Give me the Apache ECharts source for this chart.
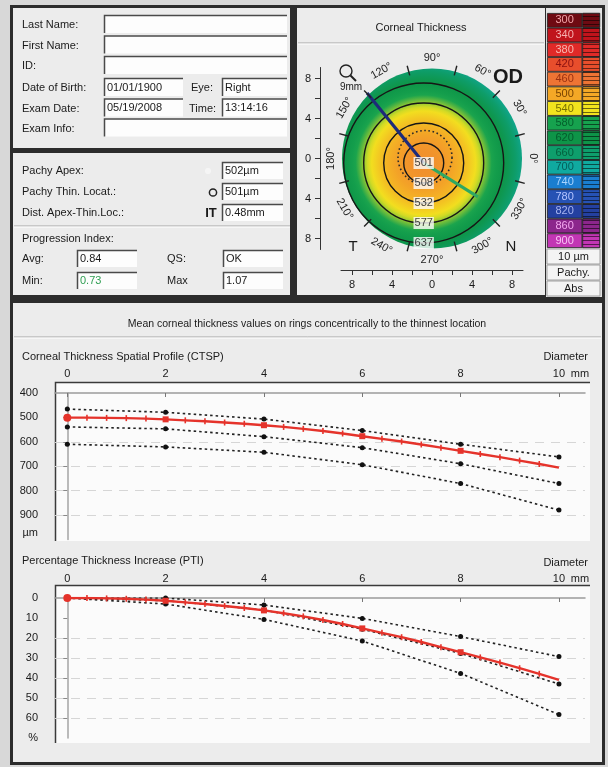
<!DOCTYPE html>
<html>
<head>
<meta charset="utf-8">
<script src="https://cdn.jsdelivr.net/npm/echarts@6/dist/echarts.min.js"></script>
<style>
  html, body { margin: 0; padding: 0; background: #d8d8d8; }
  #c { width: 608px; height: 767px; }
</style>
</head>
<body>
<div id="c"></div>
<script>
// ---------- data ----------
// ring diameters (mm) at which the mean thickness is sampled
const diameters = [0, 0.4, 0.8, 1.2, 1.6, 2, 2.4, 2.8, 3.2, 3.6, 4, 4.4, 4.8, 5.2, 5.6, 6, 6.4, 6.8, 7.2, 7.6, 8, 8.4, 8.8, 9.2, 9.6, 10];
// mean corneal thickness on each ring (µm)
const ctspMean = [501, 501, 502, 503, 505, 508, 512, 516, 521, 526, 532, 539, 547, 556, 566, 577, 588, 599, 611, 624, 637, 650, 663, 677, 691, 706];
// percentage thickness increase on each ring (%)
const ptiMean = [0, 0, 0.2, 0.4, 0.8, 1.4, 2.2, 3.0, 4.0, 5.0, 6.2, 7.6, 9.2, 11.0, 13.0, 15.2, 17.4, 19.6, 22.0, 24.6, 27.1, 29.7, 32.3, 35.1, 37.9, 40.9];

// normal population reference curves
const normDiam = [0, 2, 4, 6, 8, 10];
const ctspNormLow = [466, 479, 507, 554, 610, 662];
const ctspNormMid = [539, 547, 579, 624, 690, 771];
const ctspNormHigh = [610, 621, 643, 694, 771, 880];
const ptiNormLow = [0, 0, 3.5, 10.2, 19.3, 29.3];
const ptiNormMid = [0, 1.3, 6.0, 15.6, 27.7, 43.0];
const ptiNormHigh = [0, 3.0, 10.7, 21.5, 37.7, 58.3];

// axis ticks
const diamTicks = [0, 2, 4, 6, 8, 10];
const ctspTicks = [400, 500, 600, 700, 800, 900];
const ptiTicks = [0, 10, 20, 30, 40, 50, 60];
const mapTicks = [-8, -4, 0, 4, 8];
const mapMinorTicks = [-8, -6, -4, -2, 0, 2, 4, 6, 8];

// thickness map (map units: radius in units == ring diameter in mm)
const ringDiam = [0, 2, 4, 6, 8];
const ringThickness = [501, 508, 532, 577, 637];
const mapZoneDiam = 9;
const thinLoc = [-0.83, -0.45];
const pupil = [-0.7, 0.1, 2.7];
const meridians = [
  { angle: 129, length: 9.0, color: '#1d2b7a' },
  { angle: 328, length: 6.4, color: '#2fa862' }
];
const angleMarks = [0, 30, 60, 90, 120, 150, 180, 210, 240, 270, 300, 330];
const rimTicks = [15, 45, 75, 105, 135, 165, 195, 225, 255, 285, 315, 345];

// absolute pachymetry colour scale (each colour labels the 40 µm band starting at that value)
const scaleSteps = ['300', '340', '380', '420', '460', '500', '540', '580', '620', '660', '700', '740', '780', '820', '860', '900'];
const scaleColors = ['#6e0a12', '#c0141c', '#e02a28', '#e84e2c', '#ee7434', '#f4a826', '#f2e41e', '#16a24e', '#0e9448', '#0e9e6c', '#10aaa0', '#1a7ed0', '#2652b4', '#2440a0', '#8c268c', '#c236b4'];
const scaleTextColors = ['#f2a4a8', '#f6b0b0', '#f8b8b0', '#8a1010', '#9a3010', '#7a4400', '#7a7000', '#04602c', '#045c2c', '#04603e', '#045e5a', '#a8d4ff', '#b4c4ff', '#a8b4f0', '#f4a8f0', '#fac4f6'];
const scaleBase = 300, scaleBand = 40, scaleSpan = 600;

// ---------- helpers ----------
const FONT = '"Liberation Sans", Arial, sans-serif';
const INK = '#1a1a1a';

function txt(x, y, s, extra) {
  return {
    type: 'text', x: x, y: y, z: 60,
    style: Object.assign({ text: s, fill: INK, fontSize: 11, fontFamily: FONT, align: 'left', verticalAlign: 'middle' }, extra || {})
  };
}
function rect(x, y, w, h, fill, z, extra) {
  return { type: 'rect', z: z, shape: { x: x, y: y, width: w, height: h }, style: Object.assign({ fill: fill }, extra || {}) };
}
function field(x, y, w, h, value, color) {
  const els = [
    rect(x, y, w, h, '#fdfdfd', 20),
    { type: 'polyline', z: 21, shape: { points: [[x + 0.5, y + h], [x + 0.5, y + 0.5], [x + w, y + 0.5]] }, style: { stroke: '#4a4a4a', lineWidth: 1.5, fill: null } }
  ];
  if (value) els.push(txt(x + 3, y + h / 2 + 0.5, value, { fill: color || INK }));
  return els;
}
function etch(x1, x2, y) {
  return [
    { type: 'line', z: 15, shape: { x1: x1, y1: y, x2: x2, y2: y }, style: { stroke: '#a4a4a4', lineWidth: 1 } },
    { type: 'line', z: 15, shape: { x1: x1, y1: y + 1, x2: x2, y2: y + 1 }, style: { stroke: '#ffffff', lineWidth: 1 } }
  ];
}
function isEven(v) { return Math.abs(v / 2 - Math.round(v / 2)) < 1e-6; }
// colour of a thickness value: centre of its band gets the band colour
function thicknessColor(v) {
  const t = (v - scaleBase - scaleBand / 2) / scaleSpan;
  return echarts.color.lerp(Math.max(0, Math.min(1, t)), scaleColors);
}

// ---------- panels, fields and captions ----------
const g = [];
g.push(rect(10, 5, 595, 760, '#2c2c2c', -20));
g.push(rect(13, 8, 277, 140, '#ececec', -19));
g.push(rect(13, 153, 277, 142, '#ececec', -19));
g.push(rect(297, 8, 248, 287, '#ececec', -19));
g.push(rect(546, 8, 56, 289, '#e4e4e4', -19));
g.push(rect(13, 303, 589, 459, '#ececec', -19));

// patient block
const p1Rows = [25, 45.5, 66, 88, 108.5, 128.5];
const p1Labels = ['Last Name:', 'First Name:', 'ID:', 'Date of Birth:', 'Exam Date:', 'Exam Info:'];
p1Labels.forEach((s, i) => g.push(txt(22, p1Rows[i], s)));
[0, 1, 2, 5].forEach(i => g.push(...field(104, p1Rows[i] - 10, 183, 18)));
g.push(...field(104, p1Rows[3] - 10, 79, 18, '01/01/1900'));
g.push(...field(104, p1Rows[4] - 10, 79, 18, '05/19/2008'));
g.push(txt(191, p1Rows[3], 'Eye:'));
g.push(txt(189, p1Rows[4], 'Time:'));
g.push(...field(222, p1Rows[3] - 10, 65, 18, 'Right'));
g.push(...field(222, p1Rows[4] - 10, 65, 18, '13:14:16'));

// pachymetry block
const p2Rows = [171, 192, 213];
['Pachy Apex:', 'Pachy Thin. Locat.:', 'Dist. Apex-Thin.Loc.:'].forEach((s, i) => g.push(txt(22, p2Rows[i], s)));
['502µm', '501µm', '0.48mm'].forEach((s, i) => g.push(...field(222, p2Rows[i] - 9, 61, 17, s)));
g.push({ type: 'circle', z: 30, shape: { cx: 208, cy: 171, r: 3 }, style: { fill: '#f8f8f8', opacity: 0.8 } });
g.push({ type: 'circle', z: 30, shape: { cx: 213, cy: 192.5, r: 3.6 }, style: { fill: 'none', stroke: '#222', lineWidth: 1.5 } });
g.push(txt(211, 213.5, 'IT', { fontSize: 13, fontWeight: 'bold', align: 'center' }));
g.push(...etch(14, 290, 226));
g.push(txt(22, 238.5, 'Progression Index:'));
g.push(txt(22, 259, 'Avg:'));
g.push(txt(22, 281, 'Min:'));
g.push(txt(167, 259, 'QS:'));
g.push(txt(167, 281, 'Max'));
g.push(...field(77, 250, 60, 17, '0.84'));
g.push(...field(77, 272, 60, 17, '0.73', '#2f9e52'));
g.push(...field(223, 250, 60, 17, 'OK'));
g.push(...field(223, 272, 60, 17, '1.07'));

// thickness map captions
g.push(txt(421, 28, 'Corneal Thickness', { align: 'center' }));
g.push(...etch(298, 544, 43));
g.push(txt(508, 77, 'OD', { fontSize: 20, fontWeight: 'bold', align: 'center' }));
g.push(txt(353, 247, 'T', { fontSize: 15, align: 'center' }));
g.push(txt(511, 247, 'N', { fontSize: 15, align: 'center' }));
g.push({ type: 'circle', z: 30, shape: { cx: 346, cy: 71, r: 6 }, style: { fill: 'none', stroke: '#222', lineWidth: 1.4 } });
g.push({ type: 'line', z: 30, shape: { x1: 350.5, y1: 75.5, x2: 356, y2: 81 }, style: { stroke: '#222', lineWidth: 2 } });
g.push(txt(351, 87.5, '9mm', { fontSize: 10, align: 'center' }));

// colour scale footer
['10 µm', 'Pachy.', 'Abs'].forEach((s, i) => {
  g.push(rect(547, 249 + i * 16, 53, 15, '#f4f4f4', 20, { stroke: '#a0a0a0', lineWidth: 1 }));
  g.push(txt(573.5, 257 + i * 16, s, { align: 'center' }));
});

// profile captions
g.push(txt(307, 324, 'Mean corneal thickness values on rings concentrically to the thinnest location', { align: 'center', fontSize: 10.5 }));
g.push(...etch(14, 601, 337));
g.push(txt(22, 357, 'Corneal Thickness Spatial Profile (CTSP)'));
g.push(txt(588, 357, 'Diameter', { align: 'right' }));
g.push(txt(22, 561, 'Percentage Thickness Increase (PTI)'));
g.push(txt(588, 563, 'Diameter', { align: 'right' }));

// plot frames
[[382, 159], [585, 158]].forEach(([y, h]) => {
  g.push(rect(55, y, 535, h, '#fbfbfb', -10));
  g.push({ type: 'polyline', z: -9, shape: { points: [[55.5, y + h], [55.5, y + 0.5], [590, y + 0.5]] }, style: { stroke: '#3a3a3a', lineWidth: 1.5, fill: null } });
});

// ---------- axes ----------
const labelStyle = { color: INK, fontSize: 11, fontFamily: FONT };
function diamAxis(gridIndex) {
  return {
    type: 'value', gridIndex: gridIndex, position: 'top', min: -0.25, max: 10.53,
    axisLine: { lineStyle: { color: '#9c9c9c', width: 1.5 } },
    axisTick: { inside: true, length: 4, customValues: diamTicks, lineStyle: { color: '#777' } },
    axisLabel: Object.assign({}, labelStyle, {
      margin: 14, customValues: diamTicks,
      formatter: v => v === 10 ? '{p|}{n|10}{u|mm}' : '{n|' + v + '}',
      rich: { n: labelStyle, p: { width: 24 }, u: Object.assign({ width: 24, align: 'right' }, labelStyle) }
    }),
    splitLine: { show: false }
  };
}
function valueAxis(gridIndex, min, max, step, unit, ticks, splitCount) {
  const splitColors = [];
  for (let i = 0; i < splitCount; i++) splitColors.push(i === 0 || i === splitCount - 1 ? 'rgba(0,0,0,0)' : '#d6d6d6');
  return {
    type: 'value', gridIndex: gridIndex, inverse: true, min: min, max: max, interval: step,
    axisLine: { onZero: true, lineStyle: { color: '#a4a4a4', width: 1.5 } },
    axisTick: { length: 4, customValues: ticks.slice(1), lineStyle: { color: '#888' } },
    axisLabel: Object.assign({}, labelStyle, {
      margin: 17,
      formatter: v => (v === max ? '{u|' + unit + '}' : String(v)),
      rich: { u: Object.assign({}, labelStyle, unit === 'µm' ? { padding: [0, 0, 12, 0] } : {}) }
    }),
    splitLine: { show: true, lineStyle: { color: splitColors, type: [9, 7], width: 1 } }
  };
}
function hidden(gridIndex, min, max) {
  return { type: 'value', gridIndex: gridIndex, min: min, max: max, show: false, splitLine: { show: false } };
}
function mapAxis(gridIndex, position) {
  return {
    type: 'value', gridIndex: gridIndex, position: position, min: -9.1, max: 9.1,
    axisLine: { lineStyle: { color: '#333', width: 1 } },
    axisTick: { length: 5, customValues: mapMinorTicks, lineStyle: { color: '#333' } },
    axisLabel: Object.assign({}, labelStyle, { margin: 9, customValues: mapTicks, formatter: v => String(Math.abs(v)) }),
    splitLine: { show: false }
  };
}

// ---------- series ----------
const lastIdx = diameters.length - 1;
function meanSeries(name, xi, yi, values) {
  return {
    name: name, type: 'line', xAxisIndex: xi, yAxisIndex: yi, z: 5,
    data: diameters.map((d, i) => [d, values[i]]),
    symbol: (v, p) => (p.dataIndex === lastIdx ? 'none' : p.dataIndex === 0 ? 'circle' : 'rect'),
    symbolSize: (v, p) => (p.dataIndex === 0 ? 8 : isEven(v[0]) ? 6 : [1.6, 6]),
    showSymbol: true,
    itemStyle: { color: '#e5332b' },
    lineStyle: { color: '#e5332b', width: 2.4 }
  };
}
function normSeries(name, xi, yi, values) {
  return {
    name: name, type: 'line', xAxisIndex: xi, yAxisIndex: yi, z: 4,
    data: normDiam.map((d, i) => [d, values[i]]),
    symbol: 'circle', symbolSize: 5,
    itemStyle: { color: '#111' },
    lineStyle: { color: '#222', width: 1.6, type: [2.5, 3] }
  };
}

const series = [
  normSeries('CTSP low', 0, 0, ctspNormLow),
  normSeries('CTSP mid', 0, 0, ctspNormMid),
  normSeries('CTSP high', 0, 0, ctspNormHigh),
  meanSeries('CTSP', 0, 0, ctspMean),
  normSeries('PTI low', 1, 1, ptiNormLow),
  normSeries('PTI mid', 1, 1, ptiNormMid),
  normSeries('PTI high', 1, 1, ptiNormHigh),
  meanSeries('PTI', 1, 1, ptiMean),

  // thickness map disc, coloured from the ring profile around the thinnest point
  {
    type: 'custom', xAxisIndex: 4, yAxisIndex: 4, z: 3,
    data: [[0, 0, mapZoneDiam]],
    renderItem: (params, api) => {
      const c = api.coord([api.value(0), api.value(1)]);
      const r = api.size([api.value(2), 0])[0];
      const t = api.coord(thinLoc);
      const maxD = diameters[lastIdx];
      const stops = diameters.map((d, i) => ({ offset: d / maxD, color: thicknessColor(ctspMean[i]) }));
      return {
        type: 'circle', shape: { cx: c[0], cy: c[1], r: r },
        style: { fill: new echarts.graphic.RadialGradient(t[0], t[1], api.size([maxD, 0])[0], stops, true) }
      };
    }
  },
  // iso-rings concentric to the thinnest point
  {
    type: 'custom', xAxisIndex: 4, yAxisIndex: 4, z: 4,
    data: ringDiam.slice(1).map(d => [thinLoc[0], thinLoc[1], d]),
    renderItem: (params, api) => {
      const c = api.coord([api.value(0), api.value(1)]);
      const r = api.size([api.value(2), 0])[0];
      return { type: 'circle', shape: { cx: c[0], cy: c[1], r: r }, style: { fill: 'none', stroke: '#161616', lineWidth: 1.4 } };
    }
  },
  // pupil outline
  {
    type: 'custom', xAxisIndex: 4, yAxisIndex: 4, z: 4,
    data: [pupil],
    renderItem: (params, api) => {
      const c = api.coord([api.value(0), api.value(1)]);
      const r = api.size([api.value(2), 0])[0];
      return { type: 'circle', shape: { cx: c[0], cy: c[1], r: r }, style: { fill: 'none', stroke: '#2a2a2a', lineWidth: 1.6, lineDash: [1.6, 2.6] } };
    }
  },
  // meridian lines from the thinnest point
  {
    type: 'custom', xAxisIndex: 4, yAxisIndex: 4, z: 5,
    data: meridians.map(m => [m.angle, m.length]),
    renderItem: (params, api) => {
      const a = api.value(0) * Math.PI / 180, len = api.value(1);
      const p0 = api.coord(thinLoc);
      const p1 = api.coord([thinLoc[0] + len * Math.cos(a), thinLoc[1] + len * Math.sin(a)]);
      return { type: 'line', shape: { x1: p0[0], y1: p0[1], x2: p1[0], y2: p1[1] }, style: { stroke: meridians[params.dataIndex].color, lineWidth: 3.2 } };
    }
  },
  // rim ticks
  {
    type: 'custom', xAxisIndex: 4, yAxisIndex: 4, z: 5,
    data: rimTicks.map(a => [a]),
    renderItem: (params, api) => {
      const a = api.value(0) * Math.PI / 180;
      const p0 = api.coord([8.6 * Math.cos(a), 8.6 * Math.sin(a)]);
      const p1 = api.coord([9.6 * Math.cos(a), 9.6 * Math.sin(a)]);
      return { type: 'line', shape: { x1: p0[0], y1: p0[1], x2: p1[0], y2: p1[1] }, style: { stroke: '#222', lineWidth: 1.4 } };
    }
  },
  // angle labels around the map
  {
    type: 'custom', xAxisIndex: 4, yAxisIndex: 4, z: 5,
    data: angleMarks.map(a => [a]),
    renderItem: (params, api) => {
      const deg = api.value(0), a = deg * Math.PI / 180;
      const p = api.coord([10.1 * Math.cos(a), 10.1 * Math.sin(a)]);
      const rot = deg <= 180 ? deg - 90 : deg - 270;
      return {
        type: 'text', x: p[0], y: p[1], rotation: rot * Math.PI / 180,
        style: { text: deg + '°', align: 'center', verticalAlign: 'middle', fontSize: 11, fontFamily: FONT, fill: '#222' }
      };
    }
  },
  // ring thickness labels
  {
    type: 'scatter', xAxisIndex: 4, yAxisIndex: 4, z: 6,
    data: ringDiam.map((d, i) => [thinLoc[0], thinLoc[1] - d, ringThickness[i]]),
    symbolSize: 0,
    label: {
      show: true, position: 'inside', formatter: p => String(p.value[2]),
      color: '#111', fontSize: 11, fontFamily: FONT, backgroundColor: '#fdfdfd', padding: [1, 1, 0, 1]
    }
  },

  // colour scale
  {
    type: 'bar', xAxisIndex: 5, yAxisIndex: 5, stack: 'scale', barWidth: '100%', barCategoryGap: '0%',
    data: scaleSteps.map((s, i) => ({
      value: 1,
      itemStyle: { color: scaleColors[i], borderColor: '#1e1e1e', borderWidth: 0.8 },
      label: { color: scaleTextColors[i] }
    })),
    label: { show: true, position: 'inside', formatter: '{b}', fontSize: 11, fontFamily: FONT }
  },
  {
    type: 'bar', xAxisIndex: 5, yAxisIndex: 5, stack: 'scale', barWidth: '100%',
    data: scaleSteps.map((s, i) => ({
      value: 0.5,
      itemStyle: {
        color: scaleColors[i], borderColor: '#1e1e1e', borderWidth: 0.6,
        decal: { symbol: 'rect', symbolSize: 1, dashArrayX: [1, 0], dashArrayY: [1, 2.7], color: 'rgba(0,0,0,0.55)', rotation: 0 }
      }
    }))
  }
];

const option = {
  animation: false,
  backgroundColor: '#d8d8d8',
  textStyle: { fontFamily: FONT },
  graphic: { elements: g },
  grid: [
    { left: 55, width: 530, top: 393, height: 146.4 },
    { left: 55, width: 530, top: 598, height: 140 },
    { left: 320, width: 10, top: 67.5, height: 182 },
    { left: 341, width: 182, top: 260, height: 10 },
    { left: 322, width: 220, top: 48.5, height: 220 },
    { left: 547, width: 53, top: 13, height: 235 }
  ],
  xAxis: [
    diamAxis(0),
    diamAxis(1),
    hidden(2, 0, 1),
    mapAxis(3, 'bottom'),
    hidden(4, -11, 11),
    hidden(5, 0, 1.5)
  ],
  yAxis: [
    valueAxis(0, 400, 1000, 100, 'µm', ctspTicks, 7),
    valueAxis(1, 0, 70, 10, '%', ptiTicks, 8),
    mapAxis(2, 'left'),
    hidden(3, 0, 1),
    hidden(4, -11, 11),
    { type: 'category', gridIndex: 5, data: scaleSteps, inverse: true, show: false }
  ],
  series: series
};

const chart = echarts.init(document.getElementById('c'), null, { renderer: 'canvas' });
chart.setOption(option);
</script>
</body>
</html>
